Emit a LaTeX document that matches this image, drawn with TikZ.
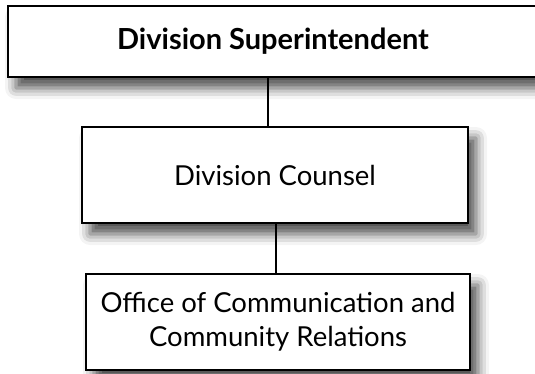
\documentclass[tikz,border=0pt]{standalone}
\usepackage{fontspec}
\setmainfont{Lato}
\usetikzlibrary{shadows.blur}

\begin{document}
\begin{tikzpicture}[x=1pt, y=1pt, >=stealth]
    % 页面大小
    \useasboundingbox (0,0) rectangle (535,-373);

    % 定义方框样式
    \tikzset{
        orgbox/.style={draw, line width=1.4pt, fill=white, inner sep=0pt, align=center,
            blur shadow={shadow xshift=8pt, shadow yshift=-11pt, shadow blur radius=11pt,
                shadow opacity=70}},
        orgtext/.style={font=\fontsize{27.5}{34}\selectfont},
        link/.style={line width=1.5pt}
    }

    % 绘制三个方框
    \node[orgbox, minimum width=530, minimum height=71,
        font=\fontsize{29}{32}\selectfont\bfseries] (super) at (273,-41.5) {Division Superintendent};
    \node[orgbox, orgtext, minimum width=386, minimum height=96] (counsel) at (275,-175) {Division Counsel};
    \node[orgbox, orgtext, minimum width=384, minimum height=96] (office) at (278,-322)
        {Office of Communication and\\Community Relations};

    % 连接线
    \draw[link] ([xshift=-7pt]counsel.north |- super.south) -- ([xshift=-7pt]counsel.north);
    \draw[link] ([xshift=1pt]counsel.south) -- ([xshift=1pt]counsel.south |- office.north);

\end{tikzpicture}
\end{document}
